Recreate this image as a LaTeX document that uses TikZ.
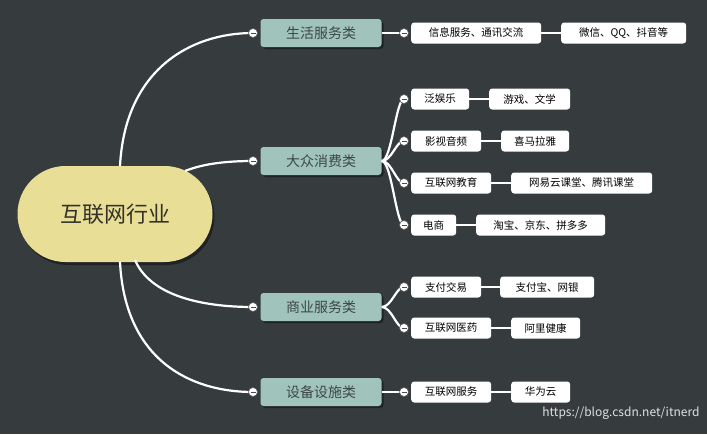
\documentclass[tikz,border=0pt]{standalone}
\usepackage{fontspec}
\setmainfont{Noto Sans CJK SC}
\usetikzlibrary{shadows}
\begin{document}
\begin{tikzpicture}[x=1pt,y=-1pt,
  conn/.style={draw=white,line width=2.2pt},
  lone/.style={rectangle,rounded corners=3pt,fill={rgb,255:red,160;green,196;blue,188},text={rgb,255:red,60;green,70;blue,70},font=\fontsize{14}{16}\selectfont,minimum width=121pt,minimum height=28pt,inner sep=0pt,drop shadow={shadow xshift=2pt,shadow yshift=-2pt,fill=black,opacity=0.4}},
  ltwo/.style={rectangle,rounded corners=3pt,fill=white,text=black,font=\fontsize{10.5}{12}\selectfont,minimum height=21pt,inner sep=0pt,anchor=west},
  tog/.style={circle,draw={rgb,255:red,90;green,90;blue,90},fill=white,line width=0.6pt,minimum size=9pt,inner sep=0pt,path picture={\draw[line width=0.8pt,black!70] ([xshift=-2.5pt]path picture bounding box.center)--([xshift=2.5pt]path picture bounding box.center);}}]
\definecolor{bg}{RGB}{54,59,62}
\useasboundingbox[fill=bg] (0,0) rectangle (707,434);
% root
\node[rounded corners=48pt,fill={rgb,255:red,232;green,222;blue,150},minimum width=195pt,minimum height=96pt,font=\fontsize{22}{26}\selectfont,text={rgb,255:red,50;green,50;blue,40},drop shadow={shadow xshift=2pt,shadow yshift=-3pt,fill=black,opacity=0.4}] (root) at (115,214) {互联网行业};
% level1
\node[lone] (a) at (321,33) {生活服务类};
\node[lone] (b) at (321,161) {大众消费类};
\node[lone] (c) at (321,307) {商业服务类};
\node[lone] (d) at (321,392) {设备设施类};
\foreach \n/\y in {ta/33,tb/161,tc/307,td/392} \coordinate (\n) at (253,\y);
\draw[conn] (120,166) .. controls (125,70) and (190,33) .. (ta);
\draw[conn] (185,171) .. controls (205,163) and (230,161) .. (tb);
\draw[conn] (135,260) .. controls (150,295) and (200,307) .. (tc);
\draw[conn] (120,262) .. controls (125,360) and (190,392) .. (td);
\foreach \n in {ta,tb,tc,td} \node[tog] at (\n) {};
% level2
\node[ltwo,minimum width=130pt] (a1) at (411,33) {信息服务、通讯交流};
\node[ltwo,minimum width=125pt] (a2) at (561,33) {微信、QQ、抖音等};
\node[ltwo,minimum width=58pt] (b1) at (411,99) {泛娱乐};
\node[ltwo,minimum width=81pt] (b1x) at (489,99) {游戏、文学};
\node[ltwo,minimum width=70pt] (b2) at (411,141) {影视音频};
\node[ltwo,minimum width=68pt] (b2x) at (501,141) {喜马拉雅};
\node[ltwo,minimum width=80pt] (b3) at (411,183) {互联网教育};
\node[ltwo,minimum width=141pt] (b3x) at (511,183) {网易云课堂、腾讯课堂};
\node[ltwo,minimum width=45pt] (b4) at (411,225) {电商};
\node[ltwo,minimum width=129pt] (b4x) at (476,225) {淘宝、京东、拼多多};
\node[ltwo,minimum width=70pt] (c1) at (411,287) {支付交易};
\node[ltwo,minimum width=94pt] (c1x) at (500,287) {支付宝、网银};
\node[ltwo,minimum width=80pt] (c2) at (411,328) {互联网医药};
\node[ltwo,minimum width=69pt] (c2x) at (511,328) {阿里健康};
\node[ltwo,minimum width=80pt] (d1) at (411,392) {互联网服务};
\node[ltwo,minimum width=59pt] (d1x) at (511,392) {华为云};
% connectors to level2
\foreach \p/\q in {a/a1,c/c1,c/c2,d/d1,b/b1,b/b2,b/b3,b/b4}
  \draw[conn] (\p.east) .. controls ([xshift=10pt]\p.east) and ([xshift=-15pt]\q.west) .. ([xshift=-7pt]\q.west);
\foreach \p/\q in {a1/a2,b1/b1x,b2/b2x,b3/b3x,b4/b4x,c1/c1x,c2/c2x,d1/d1x}
  \draw[conn] (\p.east) -- (\q.west);
\foreach \q in {a1,b1,b2,b3,b4,c1,c2,d1} \node[tog] at ([xshift=-7pt]\q.west) {};
\node[text={rgb,255:red,225;green,225;blue,225},font=\fontsize{12}{14}\selectfont,anchor=east] (wm) at (703,413) {https://blog.csdn.net/itnerd};
\end{tikzpicture}
\end{document}
